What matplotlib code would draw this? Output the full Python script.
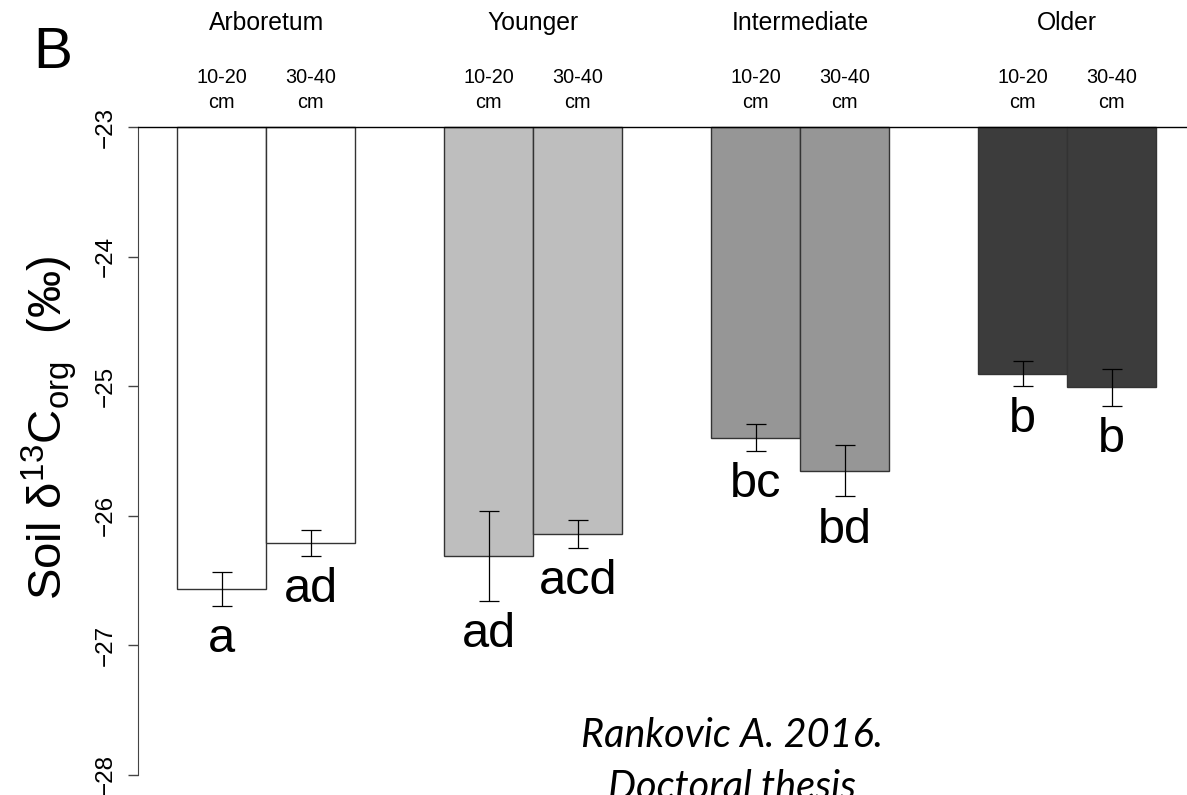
import matplotlib
matplotlib.use("Agg")
import matplotlib.pyplot as plt
import numpy as np

plt.rcParams["font.family"] = ["Liberation Sans", "DejaVu Sans"]
plt.rcParams["mathtext.fontset"] = "custom"
plt.rcParams["mathtext.rm"] = "Liberation Sans"
plt.rcParams["mathtext.it"] = "Liberation Sans:italic"

groups = ["Arboretum", "Younger", "Intermediate", "Older"]
depths = ["10-20", "30-40"]
colors = ["#FFFFFF", "#BEBEBE", "#969696", "#3C3C3C"]

mean_1020 = [-26.565, -26.31, -25.397, -24.904]
mean_3040 = [-26.21, -26.14, -25.654, -25.009]
se_1020 = [0.131, 0.347, 0.105, 0.098]
se_3040 = [0.10, 0.11, 0.197, 0.144]
letters_1020 = ["a", "ad", "bc", "b"]
letters_3040 = ["ad", "acd", "bd", "b"]

W, H = 1187, 795
PX_PER_UNIT = 129.6
Y_TOP_PX = 127  # pixel row of -23


def py(px):
    # pixel row -> data y
    return -23 + (Y_TOP_PX - px) / PX_PER_UNIT


fig = plt.figure(figsize=(W / 100, H / 100), dpi=100)
left_px = 138
ax = fig.add_axes([left_px / W, 0, 1 - left_px / W, 1])
ax.set_xlim(0.56, 0.56 + (W - left_px) / 89)
ax.set_ylim(py(H), py(0))

# bar left edges as R barplot(beside=TRUE, space=c(0,1))
lefts = []
means = []
ses = []
labs = []
cols = []
for i in range(len(groups)):
    base = 1 + 3 * i
    lefts += [base, base + 1]
    means += [mean_1020[i], mean_3040[i]]
    ses += [se_1020[i], se_3040[i]]
    labs += [letters_1020[i], letters_3040[i]]
    cols += [colors[i], colors[i]]
lefts = np.array(lefts, dtype=float)
means = np.array(means)
ses = np.array(ses)
centers = lefts + 0.5

ax.bar(lefts, means - (-23), bottom=-23, width=1, align="edge",
       color=cols, edgecolor="#333333", linewidth=1.0, zorder=2)
ax.errorbar(centers, means, yerr=ses, fmt="none", ecolor="black",
            elinewidth=0.9, capsize=7, capthick=0.9, zorder=3)
ax.axhline(-23, color="black", linewidth=1.0, zorder=4)

for x, m, s, t in zip(centers, means, ses, labs):
    ax.text(x, m - s - 0.085, t, ha="center", va="top", fontsize=35)

# group and depth labels above the bars
for i, g in enumerate(groups):
    gx = 2 + 3 * i
    ax.text(gx, py(30), g, ha="center", va="baseline", fontsize=17.8, clip_on=False)
    for j, d in enumerate(depths):
        dx = 1.5 + 3 * i + j
        ax.text(dx, py(83), d, ha="center", va="baseline", fontsize=14.3)
        ax.text(dx, py(108), "cm", ha="center", va="baseline", fontsize=14.3)

for sp in ["top", "right", "bottom"]:
    ax.spines[sp].set_visible(False)
ax.spines["left"].set_bounds(-28, -23)
ax.spines["left"].set_color("#444444")
ax.set_yticks([-28, -27, -26, -25, -24, -23])
ax.set_xticks([])
ax.tick_params(axis="y", length=7.2, width=1.0, pad=8, labelsize=17.5,
               color="#444444")
for lab in ax.get_yticklabels():
    lab.set_rotation(90)
    lab.set_va("center")

fig.text(49 / W, 1 - 428 / H, r"Soil δ$^{13}$C$_{\mathrm{org}}$  (‰)",
         rotation=90, ha="center", va="center", fontsize=34)
fig.text(33 / W, 1 - 68 / H, "B", ha="left", va="baseline", fontsize=42)

fig.text(732 / W, 1 - 747 / H, "Rankovic A. 2016.", ha="center", va="baseline",
         fontsize=28.5, family="Lato", style="italic")
fig.text(732 / W, 1 - 799 / H, "Doctoral thesis", ha="center", va="baseline",
         fontsize=28.5, family="Lato", style="italic")

fig.savefig("out.png", dpi=100)
